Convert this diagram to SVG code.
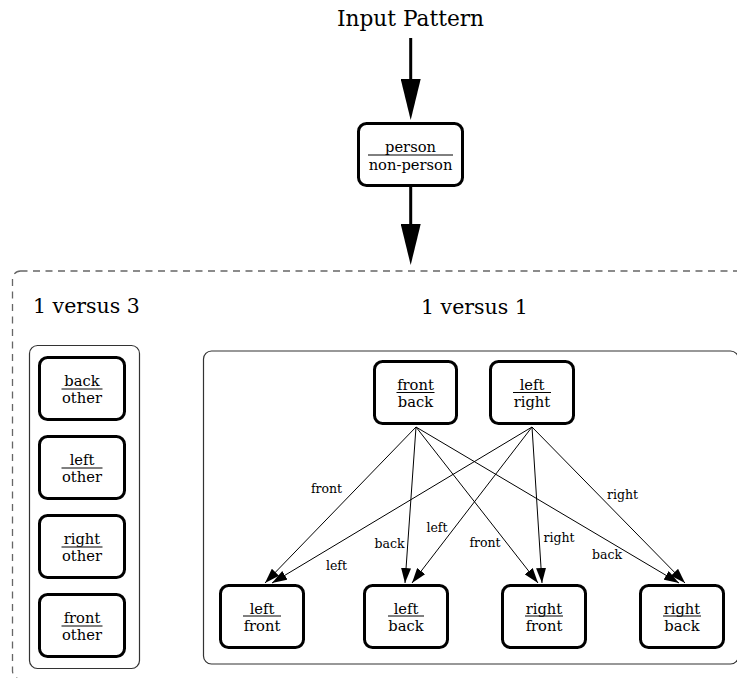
<svg xmlns="http://www.w3.org/2000/svg" width="737" height="678" viewBox="0 0 737 678">
  <style>
    text { font-family: "DejaVu Serif", "Liberation Serif", serif; fill: #000; }
    .title { font-size: 20.5px; }
    .big { font-size: 21.7px; }
    .nt { font-size: 14.7px; text-anchor: middle; }
    .el { font-size: 12.5px; text-anchor: middle; }
    .node { fill: #fff; stroke: #000; stroke-width: 3; }
    .bar { stroke: #000; stroke-width: 1; }
    .cluster { fill: none; stroke: #333; stroke-width: 1.2; }
    .outer { fill: none; stroke: #666; stroke-width: 1.3; stroke-dasharray: 7 5.5; }
    .thick { stroke: #000; stroke-width: 3; fill: none; }
    .thin { stroke: #000; stroke-width: 1; fill: none; }
  </style>
  <defs>
    <marker id="bighead" markerUnits="userSpaceOnUse" viewBox="0 0 41 20" refX="0" refY="10" markerWidth="41" markerHeight="20" orient="auto">
      <path d="M0,0 L41,10 L0,20 z" fill="#000"/>
    </marker>
    <marker id="head" markerUnits="userSpaceOnUse" viewBox="0 0 15 10" refX="15" refY="5" markerWidth="15" markerHeight="10" orient="auto">
      <path d="M0,0 L15,5 L0,10 z" fill="#000"/>
    </marker>
  </defs>

  <!-- clusters -->
  <g id="cluster-all">
    <rect class="outer" x="12.5" y="271" width="740" height="408" rx="8"/>
  </g>
  <g id="cluster-1v3">
    <text class="title" x="33" y="313">1 versus 3</text>
    <rect class="cluster" x="29.5" y="345.5" width="110" height="323" rx="8"/>
  </g>
  <g id="cluster-1v1">
    <text class="title" x="421" y="314">1 versus 1</text>
    <rect class="cluster" x="203.5" y="351" width="535" height="313" rx="8"/>
  </g>

  <!-- entry label -->
  <g id="input">
    <text class="big" x="410.5" y="26" text-anchor="middle">Input Pattern</text>
  </g>

  <!-- connectors -->
  <g id="connectors">
    <line class="thick" x1="410.7" y1="38" x2="410.7" y2="79" marker-end="url(#bighead)"/>
    <line class="thick" x1="410.7" y1="187" x2="410.7" y2="224" marker-end="url(#bighead)"/>

    <line class="thin" x1="416" y1="427" x2="265" y2="583" marker-end="url(#head)"/>
    <line class="thin" x1="532" y1="427" x2="272" y2="583" marker-end="url(#head)"/>
    <line class="thin" x1="416" y1="427" x2="405" y2="583" marker-end="url(#head)"/>
    <line class="thin" x1="532" y1="427" x2="412" y2="583" marker-end="url(#head)"/>
    <line class="thin" x1="416" y1="427" x2="538" y2="583" marker-end="url(#head)"/>
    <line class="thin" x1="532" y1="427" x2="542" y2="583" marker-end="url(#head)"/>
    <line class="thin" x1="416" y1="427" x2="679" y2="583" marker-end="url(#head)"/>
    <line class="thin" x1="532" y1="427" x2="685" y2="583" marker-end="url(#head)"/>

    <text class="el" x="326.5" y="493">front</text>
    <text class="el" x="336.5" y="570">left</text>
    <text class="el" x="389.5" y="548">back</text>
    <text class="el" x="437" y="532">left</text>
    <text class="el" x="485" y="547">front</text>
    <text class="el" x="559" y="542">right</text>
    <text class="el" x="607" y="559">back</text>
    <text class="el" x="622.5" y="498.5">right</text>
  </g>

  <!-- person classifier -->
  <g id="person">
    <rect class="node" x="358.5" y="123.5" width="104" height="62" rx="8"/>
    <text class="nt" x="410.5" y="152">person</text>
    <line class="bar" x1="368" y1="155" x2="453" y2="155"/>
    <text class="nt" x="410.5" y="169.5">non-person</text>
  </g>

  <!-- one-versus-three classifiers -->
  <g id="back-other">
    <rect class="node" x="39.5" y="357.5" width="85" height="62" rx="8"/>
    <text class="nt" x="82" y="386">back</text>
    <line class="bar" x1="61.5" y1="389" x2="102.5" y2="389"/>
    <text class="nt" x="82" y="403">other</text>
  </g>
  <g id="left-other">
    <rect class="node" x="39.5" y="436.5" width="85" height="62" rx="8"/>
    <text class="nt" x="82" y="465">left</text>
    <line class="bar" x1="61.5" y1="468" x2="102.5" y2="468"/>
    <text class="nt" x="82" y="482">other</text>
  </g>
  <g id="right-other">
    <rect class="node" x="39.5" y="515.5" width="85" height="62" rx="8"/>
    <text class="nt" x="82" y="544">right</text>
    <line class="bar" x1="61.5" y1="547" x2="102.5" y2="547"/>
    <text class="nt" x="82" y="561">other</text>
  </g>
  <g id="front-other">
    <rect class="node" x="39.5" y="594.5" width="85" height="62" rx="8"/>
    <text class="nt" x="82" y="623">front</text>
    <line class="bar" x1="61.5" y1="626" x2="102.5" y2="626"/>
    <text class="nt" x="82" y="640">other</text>
  </g>

  <!-- one-versus-one classifiers -->
  <g id="front-back">
    <rect class="node" x="374.5" y="361.5" width="82" height="62" rx="8"/>
    <text class="nt" x="415.5" y="389.5">front</text>
    <line class="bar" x1="396.5" y1="392.5" x2="434.5" y2="392.5"/>
    <text class="nt" x="415.5" y="406.5">back</text>
  </g>
  <g id="left-right">
    <rect class="node" x="490.5" y="361.5" width="83" height="62" rx="8"/>
    <text class="nt" x="532" y="389.5">left</text>
    <line class="bar" x1="513" y1="392.5" x2="551" y2="392.5"/>
    <text class="nt" x="532" y="406.5">right</text>
  </g>

  <!-- final pose nodes -->
  <g id="left-front">
    <rect class="node" x="220.5" y="585.5" width="83" height="62" rx="8"/>
    <text class="nt" x="262" y="613.5">left</text>
    <line class="bar" x1="243" y1="616" x2="281" y2="616"/>
    <text class="nt" x="262" y="630.5">front</text>
  </g>
  <g id="left-back">
    <rect class="node" x="364.5" y="585.5" width="83" height="62" rx="8"/>
    <text class="nt" x="406" y="613.5">left</text>
    <line class="bar" x1="388" y1="616" x2="424" y2="616"/>
    <text class="nt" x="406" y="630.5">back</text>
  </g>
  <g id="right-front">
    <rect class="node" x="502.5" y="585.5" width="83" height="62" rx="8"/>
    <text class="nt" x="544" y="613.5">right</text>
    <line class="bar" x1="525" y1="616" x2="563" y2="616"/>
    <text class="nt" x="544" y="630.5">front</text>
  </g>
  <g id="right-back">
    <rect class="node" x="640.5" y="585.5" width="83" height="62" rx="8"/>
    <text class="nt" x="682" y="613.5">right</text>
    <line class="bar" x1="663" y1="616" x2="701" y2="616"/>
    <text class="nt" x="682" y="630.5">back</text>
  </g>
</svg>
